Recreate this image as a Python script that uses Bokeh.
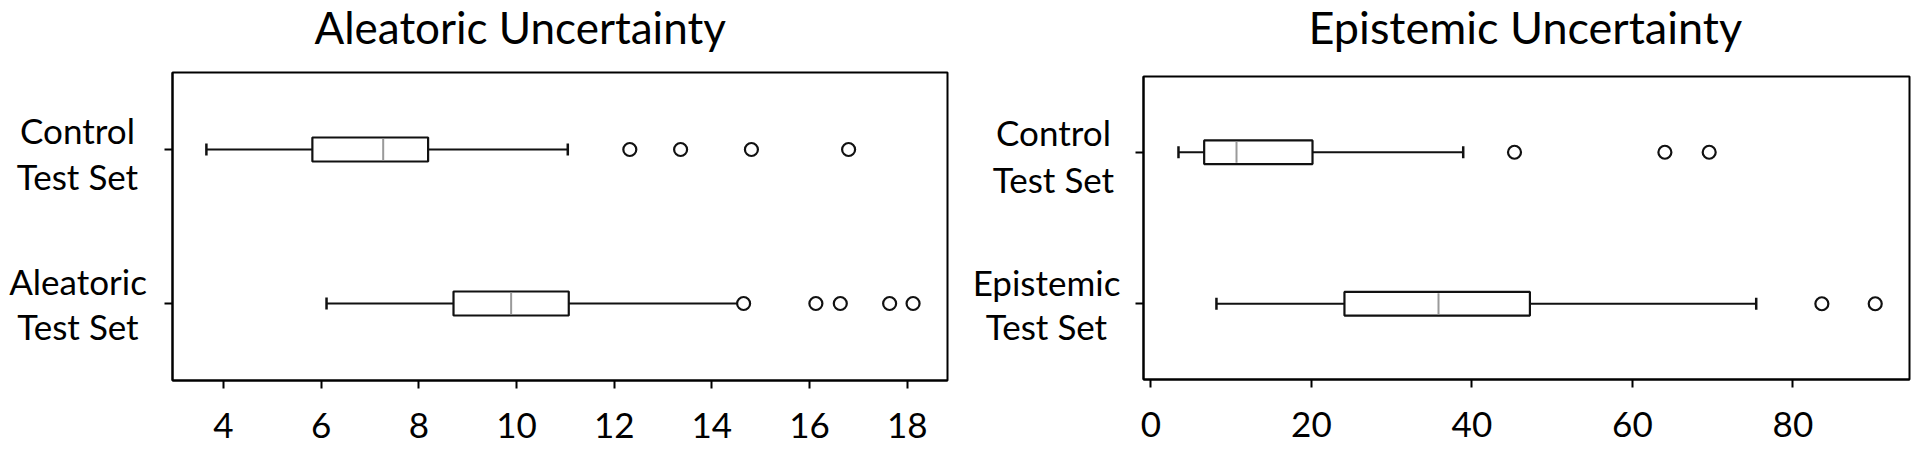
from bokeh.plotting import figure
from bokeh.layouts import row, column
from bokeh.models import Range1d, FactorRange, FixedTicker, ColumnDataSource
from bokeh.core.properties import value
from bokeh.transform import dodge
from bokeh.embed import file_html
from bokeh.resources import INLINE

FONT = "Lato"

# ---------------- data ----------------
alea_title = "Aleatoric Uncertainty"
alea_cats = ["Control\nTest Set", "Aleatoric\nTest Set"]
alea_whislo = [3.65, 6.11]
alea_q1 = [5.82, 8.71]
alea_med = [7.27, 9.89]
alea_q3 = [8.19, 11.07]
alea_whishi = [11.05, 14.62]
alea_out_control = [12.32, 13.36, 14.81, 16.80]
alea_out_alea = [14.65, 16.13, 16.63, 17.64, 18.12]
alea_ticks = [4, 6, 8, 10, 12, 14, 16, 18]

epi_title = "Epistemic Uncertainty"
epi_cats = ["Control\nTest Set", "Epistemic\nTest Set"]
epi_whislo = [3.44, 8.17]
epi_q1 = [6.64, 24.12]
epi_med = [10.67, 35.84]
epi_q3 = [20.14, 47.23]
epi_whishi = [38.92, 75.43]
epi_out_control = [45.31, 64.05, 69.57]
epi_out_epi = [83.61, 90.26]
epi_ticks = [0, 20, 40, 60, 80]

# ---------------- style ----------------
BOX_H = 0.156
CAP_H = 0.078
LINE = "#111111"
MED = "#9a9a9a"
PAGE_H = 452
TITLE_H = 68          # height of the title strip
TITLE_Y = 41.5        # title anchor, px above strip bottom
# (line-1 px above tick, line-2 px below tick) per category
LABEL_OFFSETS = [(19.8, 26.7), (22.2, 22.0)]


def bare(width, height, xr, yr, **kw):
    f = figure(width=width, height=height, x_range=xr, y_range=yr,
               x_axis_location=None, y_axis_location=None,
               output_backend="svg", toolbar_location=None,
               min_border=0, outline_line_color=None,
               background_fill_color="white", border_fill_color="white", **kw)
    f.xgrid.visible = False
    f.ygrid.visible = False
    return f


def make_group(title, title_size, cats, whislo, q1, med, q3, whishi, out_lists,
               ticks, xr, total_w, frame_left, fw, fh, frame_top, title_x,
               label_cx):
    factors = list(reversed(cats))
    yr = FactorRange(factors=factors)
    bl = 14
    lab_w = frame_left - bl
    bt = frame_top - TITLE_H
    main_h = PAGE_H - TITLE_H
    bb = main_h - bt - fh
    br = total_w - lab_w - bl - fw

    # ---- title strip ----
    t = bare(total_w, TITLE_H, Range1d(0, total_w), Range1d(0, TITLE_H),
             frame_width=total_w, frame_height=TITLE_H)
    t.text(x=[title_x], y=[TITLE_Y], text=[title], text_font=value(FONT),
           text_font_size=title_size, text_color="black", text_align="left",
           text_baseline="alphabetic")

    # ---- main plot ----
    p = figure(
        y_range=yr, x_range=Range1d(*xr),
        frame_width=fw, frame_height=fh,
        min_border_left=bl, min_border_right=br,
        min_border_top=bt, min_border_bottom=bb,
        output_backend="svg", toolbar_location=None,
        background_fill_color="white", border_fill_color="white",
    )
    p.outline_line_color = "black"
    p.outline_line_width = 2
    p.xgrid.visible = False
    p.ygrid.visible = False

    src = ColumnDataSource(dict(cat=cats, whislo=whislo, q1=q1, med=med,
                                q3=q3, whishi=whishi))
    p.segment(x0="whislo", y0="cat", x1="q1", y1="cat", source=src,
              line_color=LINE, line_width=2)
    p.segment(x0="q3", y0="cat", x1="whishi", y1="cat", source=src,
              line_color=LINE, line_width=2)
    for fld in ("whislo", "whishi"):
        p.segment(x0=fld, x1=fld,
                  y0=dodge("cat", -CAP_H / 2, range=yr),
                  y1=dodge("cat", CAP_H / 2, range=yr),
                  source=src, line_color=LINE, line_width=2.5)
    p.hbar(y="cat", left="q1", right="q3", height=BOX_H, source=src,
           fill_color="white", line_color=LINE, line_width=2.2)
    p.segment(x0="med", x1="med",
              y0=dodge("cat", -BOX_H / 2 + 0.008, range=yr),
              y1=dodge("cat", BOX_H / 2 - 0.008, range=yr),
              source=src, line_color=MED, line_width=2)
    for c, vals in zip(cats, out_lists):
        p.scatter(x=vals, y=[c] * len(vals), marker="circle", size=13,
                  fill_color="white", line_color=LINE, line_width=2.2)

    ax = p.xaxis[0]
    ax.ticker = FixedTicker(ticks=ticks)
    ax.minor_tick_line_color = None
    ax.major_tick_out = 8
    ax.major_tick_in = 0
    ax.major_tick_line_width = 2
    ax.major_tick_line_color = "black"
    ax.axis_line_color = "black"
    ax.axis_line_width = 2
    ax.major_label_text_font = FONT
    ax.major_label_text_font_size = "35px"
    ax.major_label_text_color = "black"
    ax.major_label_standoff = 24

    ay = p.yaxis[0]
    ay.major_tick_out = 8
    ay.major_tick_in = 0
    ay.major_tick_line_width = 2
    ay.major_tick_line_color = "black"
    ay.axis_line_color = "black"
    ay.axis_line_width = 2
    ay.major_label_text_font_size = "0px"
    ay.major_label_text_color = None
    ay.major_label_standoff = 0

    # ---- category labels strip (shares the y range) ----
    lab = bare(lab_w, main_h, Range1d(0, lab_w), yr,
               frame_width=lab_w, frame_height=fh,
               min_border_top=bt, min_border_bottom=bb)
    xs, ys, txt, offs = [], [], [], []
    for c, cx, (up, down) in zip(cats, label_cx, LABEL_OFFSETS):
        l1, l2 = c.split("\n")
        xs += [cx, cx]
        ys += [c, c]
        txt += [l1, l2]
        offs += [-up, down]
    lab.text(x=xs, y=ys, text=txt, y_offset=offs, text_font=value(FONT),
             text_font_size="35px", text_color="black", text_align="center",
             text_baseline="alphabetic")

    return column(t, row(lab, p, spacing=0), spacing=0)


g1 = make_group(alea_title, "44px", alea_cats, alea_whislo, alea_q1, alea_med,
                alea_q3, alea_whishi, [alea_out_control, alea_out_alea],
                alea_ticks, (2.956, 18.825), 955, 172, 775, 308, 72, 314,
                [77, 77.5])
g2 = make_group(epi_title, "45px", epi_cats, epi_whislo, epi_q1, epi_med,
                epi_q3, epi_whishi, [epi_out_control, epi_out_epi], epi_ticks,
                (-0.92, 94.53), 965, 188, 766, 303, 76, 353, [98, 91])

layout = row(g1, g2, spacing=0)
open("out.html", "w").write(file_html(layout, INLINE))
